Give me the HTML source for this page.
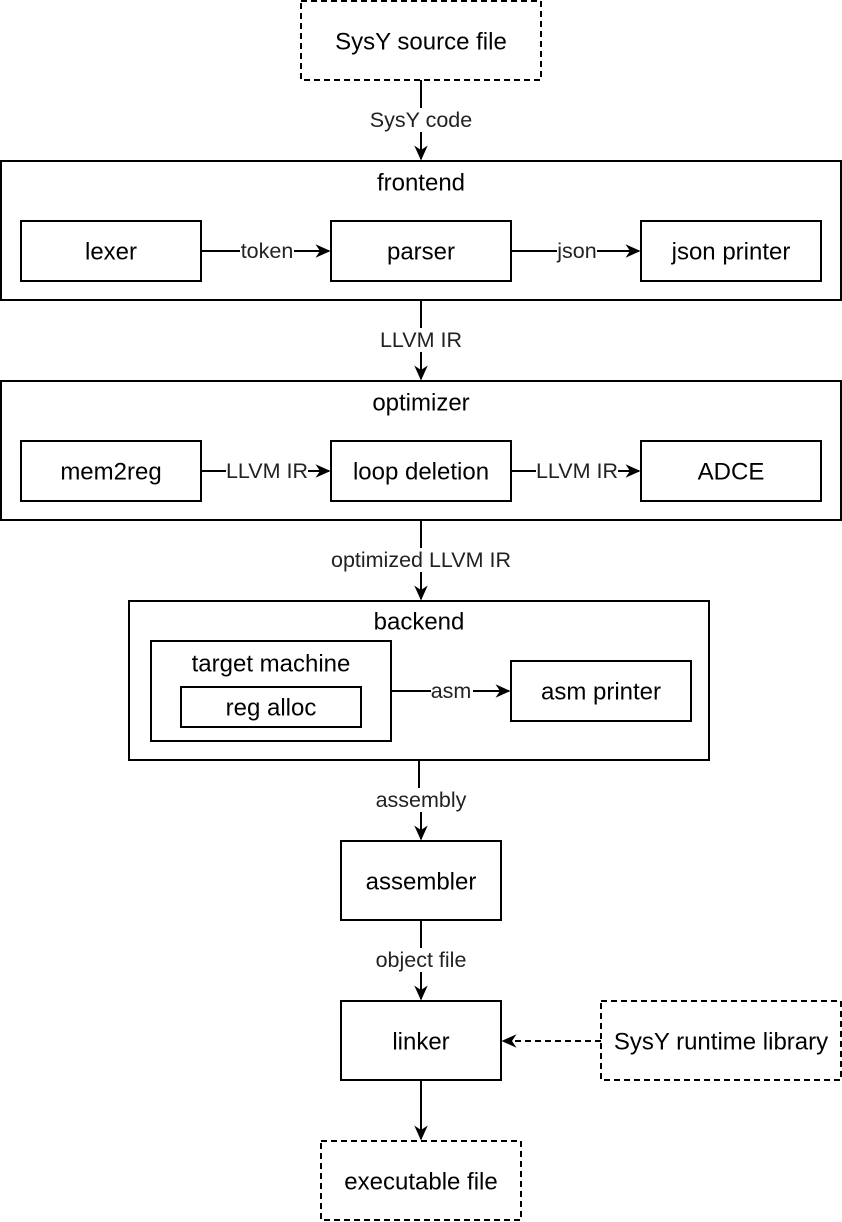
<!DOCTYPE html>
<html><head><meta charset="utf-8"><style>
html,body{margin:0;padding:0;background:#fff;}
svg{display:block;}
text{font-family:"Liberation Sans",Helvetica,Arial,sans-serif;fill:#000;}
.n{font-size:24px;text-anchor:middle;dominant-baseline:central;}
.l{font-size:21.5px;text-anchor:middle;dominant-baseline:central;fill:#222;}
</style></head><body>
<svg width="842" height="1222" viewBox="0 0 842 1222" xmlns="http://www.w3.org/2000/svg">
<defs>
<marker id="a" viewBox="0 0 10 10" refX="9" refY="5" markerWidth="15" markerHeight="15" markerUnits="userSpaceOnUse" orient="auto">
<path d="M0,0.5 L10,5 L0,9.5 L3,5 Z" fill="#000"/>
</marker>
</defs>
<g fill="none" stroke="#000" stroke-width="2">
<rect x="301" y="1" width="240" height="79" stroke-dasharray="6,4"/>
<rect x="1" y="161" width="840" height="139"/>
<rect x="21" y="221" width="180" height="60"/>
<rect x="331" y="221" width="180" height="60"/>
<rect x="641" y="221" width="180" height="60"/>
<rect x="1" y="381" width="840" height="139"/>
<rect x="21" y="441" width="180" height="60"/>
<rect x="331" y="441" width="180" height="60"/>
<rect x="641" y="441" width="180" height="60"/>
<rect x="129" y="601" width="580" height="159"/>
<rect x="151" y="641" width="240" height="100"/>
<rect x="181" y="687" width="180" height="40"/>
<rect x="511" y="661" width="180" height="60"/>
<rect x="341" y="841" width="160" height="79"/>
<rect x="341" y="1001" width="160" height="79"/>
<rect x="601" y="1001" width="240" height="79" stroke-dasharray="6,4"/>
<rect x="321" y="1141" width="200" height="79" stroke-dasharray="6,4"/>
<line x1="421" y1="80" x2="421" y2="159" marker-end="url(#a)"/>
<line x1="201" y1="251" x2="329" y2="251" marker-end="url(#a)"/>
<line x1="511" y1="251" x2="639" y2="251" marker-end="url(#a)"/>
<line x1="421" y1="300" x2="421" y2="379" marker-end="url(#a)"/>
<line x1="201" y1="471" x2="329" y2="471" marker-end="url(#a)"/>
<line x1="511" y1="471" x2="639" y2="471" marker-end="url(#a)"/>
<line x1="421" y1="520" x2="421" y2="599" marker-end="url(#a)"/>
<line x1="391" y1="691" x2="509" y2="691" marker-end="url(#a)"/>
<polyline points="419,760 419,800 421,800 421,839" marker-end="url(#a)"/>
<line x1="421" y1="920" x2="421" y2="999" marker-end="url(#a)"/>
<line x1="601" y1="1041" x2="503" y2="1041" stroke-dasharray="6,4" marker-end="url(#a)"/>
<line x1="421" y1="1080" x2="421" y2="1139" marker-end="url(#a)"/>
</g>
<g fill="#fff" stroke="none">
<rect x="369" y="108" width="104" height="24"/>
<rect x="240" y="239" width="54" height="24"/>
<rect x="557" y="239" width="40" height="24"/>
<rect x="379" y="328" width="84" height="24"/>
<rect x="226" y="459" width="82" height="24"/>
<rect x="536" y="459" width="82" height="24"/>
<rect x="330" y="548" width="182" height="24"/>
<rect x="431" y="679" width="42" height="24"/>
<rect x="375" y="788" width="92" height="24"/>
<rect x="375" y="948" width="92" height="24"/>
</g>
<text class="n" x="421" y="42">SysY source file</text>
<text class="l" x="421" y="120">SysY code</text>
<text class="n" x="421" y="183">frontend</text>
<text class="n" x="111" y="252">lexer</text>
<text class="n" x="421" y="252">parser</text>
<text class="n" x="731" y="252">json printer</text>
<text class="l" x="267" y="251">token</text>
<text class="l" x="577" y="251">json</text>
<text class="l" x="421" y="340">LLVM IR</text>
<text class="n" x="421" y="403">optimizer</text>
<text class="n" x="111" y="472">mem2reg</text>
<text class="n" x="421" y="472">loop deletion</text>
<text class="n" x="731" y="472">ADCE</text>
<text class="l" x="267" y="471">LLVM IR</text>
<text class="l" x="577" y="471">LLVM IR</text>
<text class="l" x="421" y="560">optimized LLVM IR</text>
<text class="n" x="419" y="622">backend</text>
<text class="n" x="271" y="664">target machine</text>
<text class="n" x="271" y="708">reg alloc</text>
<text class="n" x="601" y="692">asm printer</text>
<text class="l" x="451" y="691">asm</text>
<text class="l" x="421" y="800">assembly</text>
<text class="n" x="421" y="882">assembler</text>
<text class="l" x="421" y="960">object file</text>
<text class="n" x="421" y="1042">linker</text>
<text class="n" x="721" y="1042">SysY runtime library</text>
<text class="n" x="421" y="1182">executable file</text>
</svg>
</body></html>
